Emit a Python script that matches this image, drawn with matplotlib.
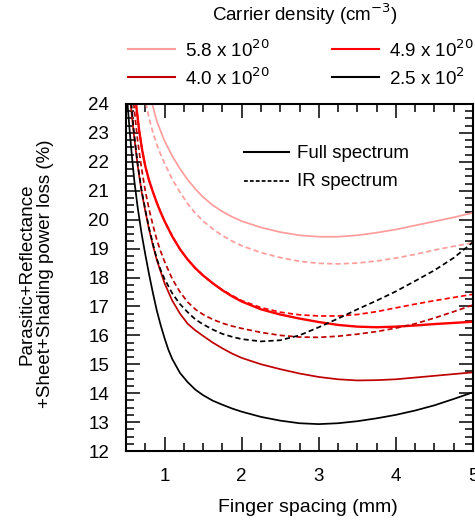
import matplotlib
matplotlib.use("Agg")
import matplotlib.pyplot as plt
from matplotlib.ticker import MultipleLocator

plt.rcParams['font.family'] = ['Liberation Sans', 'DejaVu Sans']

# ---- data ----
# 5.8e20, full spectrum
x_pink_full = [0.82, 0.84, 0.90, 1.00, 1.10, 1.20, 1.30, 1.40, 1.50, 1.625, 1.75, 1.875, 2.00, 2.25, 2.50, 2.75, 3.00, 3.25, 3.50, 3.75, 4.00, 4.25, 4.50, 4.75, 5.00]
y_pink_full = [24.3, 24.0, 23.4, 22.72, 22.2, 21.76, 21.38, 21.06, 20.78, 20.5, 20.28, 20.1, 19.95, 19.73, 19.57, 19.46, 19.41, 19.41, 19.46, 19.55, 19.66, 19.8, 19.94, 20.08, 20.24]
# 5.8e20, IR spectrum
x_pink_ir = [0.73, 0.76, 0.80, 0.85, 0.90, 0.95, 1.00, 1.10, 1.20, 1.30, 1.40, 1.50, 1.625, 1.75, 1.875, 2.00, 2.25, 2.50, 2.75, 3.00, 3.25, 3.50, 3.75, 4.00, 4.25, 4.50, 4.75, 5.00]
y_pink_ir = [24.6, 24.0, 23.5, 23.0, 22.6, 22.25, 21.95, 21.4, 20.95, 20.55, 20.22, 19.95, 19.68, 19.45, 19.26, 19.1, 18.86, 18.69, 18.56, 18.49, 18.47, 18.5, 18.57, 18.67, 18.8, 18.95, 19.08, 19.2]
# 4.9e20, full spectrum
x_red_full = [0.61, 0.63, 0.67, 0.71, 0.75, 0.80, 0.85, 0.90, 0.95, 1.00, 1.10, 1.20, 1.30, 1.40, 1.50, 1.625, 1.75, 1.875, 2.00, 2.25, 2.50, 2.75, 3.00, 3.25, 3.50, 3.75, 4.00, 4.25, 4.50, 4.75, 5.00]
y_red_full = [24.6, 24.0, 23.1, 22.4, 21.85, 21.35, 20.95, 20.58, 20.25, 19.95, 19.42, 18.98, 18.62, 18.32, 18.07, 17.8, 17.56, 17.35, 17.17, 16.9, 16.72, 16.58, 16.46, 16.36, 16.3, 16.28, 16.3, 16.34, 16.39, 16.43, 16.47]
# 4.9e20, IR spectrum
x_red_ir = [0.61, 0.63, 0.67, 0.71, 0.75, 0.80, 0.85, 0.90, 0.95, 1.00, 1.10, 1.20, 1.30, 1.40, 1.50, 1.625, 1.75, 1.875, 2.00, 2.25, 2.50, 2.75, 3.00, 3.25, 3.50, 3.75, 4.00, 4.25, 4.50, 4.75, 5.00]
y_red_ir = [24.6, 24.0, 23.1, 22.4, 21.85, 21.35, 20.95, 20.58, 20.25, 19.95, 19.42, 18.98, 18.62, 18.32, 18.07, 17.8, 17.57, 17.38, 17.2, 16.96, 16.8, 16.71, 16.67, 16.67, 16.72, 16.82, 16.95, 17.08, 17.2, 17.31, 17.42]
# 4.0e20, full spectrum
x_dred_full = [0.54, 0.56, 0.60, 0.65, 0.70, 0.75, 0.80, 0.85, 0.90, 0.95, 1.00, 1.10, 1.20, 1.30, 1.40, 1.50, 1.625, 1.75, 1.875, 2.00, 2.25, 2.50, 2.75, 3.00, 3.25, 3.50, 3.75, 4.00, 4.25, 4.50, 4.75, 5.00]
y_dred_full = [24.6, 24.0, 23.0, 21.9, 21.0, 20.3, 19.65, 19.1, 18.6, 18.2, 17.8, 17.2, 16.75, 16.4, 16.17, 15.98, 15.75, 15.55, 15.37, 15.22, 15.0, 14.83, 14.68, 14.56, 14.48, 14.44, 14.45, 14.48, 14.54, 14.6, 14.66, 14.72]
# 4.0e20, IR spectrum
x_dred_ir = [0.58, 0.60, 0.65, 0.70, 0.75, 0.80, 0.85, 0.90, 0.95, 1.00, 1.10, 1.20, 1.30, 1.40, 1.50, 1.625, 1.75, 1.875, 2.00, 2.25, 2.50, 2.75, 3.00, 3.25, 3.50, 3.75, 4.00, 4.25, 4.50, 4.75, 5.00]
y_dred_ir = [24.6, 24.0, 22.75, 21.8, 21.0, 20.35, 19.8, 19.3, 18.9, 18.55, 17.95, 17.5, 17.15, 16.9, 16.72, 16.55, 16.42, 16.32, 16.24, 16.1, 16.0, 15.94, 15.93, 15.97, 16.04, 16.13, 16.25, 16.4, 16.6, 16.82, 17.05]
# 2.5e2, full spectrum
x_blk_full = [0.50, 0.52, 0.55, 0.58, 0.61, 0.65, 0.70, 0.75, 0.80, 0.85, 0.90, 0.95, 1.00, 1.05, 1.10, 1.20, 1.30, 1.40, 1.50, 1.625, 1.75, 1.875, 2.00, 2.25, 2.50, 2.75, 3.00, 3.25, 3.50, 3.75, 4.00, 4.25, 4.50, 4.75, 5.00]
y_blk_full = [24.8, 24.0, 23.0, 22.1, 21.3, 20.45, 19.55, 18.8, 18.1, 17.45, 16.85, 16.35, 15.9, 15.5, 15.18, 14.7, 14.38, 14.12, 13.93, 13.74, 13.6, 13.47, 13.36, 13.18, 13.05, 12.96, 12.93, 12.96, 13.03, 13.13, 13.25, 13.4, 13.58, 13.8, 14.03]
# 2.5e2, IR spectrum
x_blk_ir = [0.55, 0.57, 0.60, 0.65, 0.70, 0.75, 0.80, 0.85, 0.90, 0.95, 1.00, 1.10, 1.20, 1.30, 1.40, 1.50, 1.625, 1.75, 1.875, 2.00, 2.25, 2.50, 2.75, 3.00, 3.25, 3.50, 3.75, 4.00, 4.25, 4.50, 4.75, 5.00]
y_blk_ir = [24.6, 24.0, 23.1, 21.95, 21.05, 20.35, 19.7, 19.15, 18.65, 18.25, 17.95, 17.45, 17.08, 16.8, 16.55, 16.38, 16.2, 16.05, 15.95, 15.87, 15.79, 15.83, 16.0, 16.28, 16.58, 16.9, 17.2, 17.52, 17.88, 18.25, 18.68, 19.22]

density_labels = ['5.8 x 10$^{20}$', '4.9 x 10$^{20}$', '4.0 x 10$^{20}$', '2.5 x 10$^{2}$']
x_ticks = [1, 2, 3, 4, 5]
y_ticks = list(range(12, 25))

c_pink = '#FF9C9C'
c_red = '#FF0000'
c_dred = '#C00000'
c_blk = '#000000'

W, H = 475, 523
fig = plt.figure(figsize=(W / 100, H / 100), dpi=100)
ax = fig.add_axes([126 / W, 1 - 451 / H, 347 / W, 347 / H])

lw = 1.25
dash = (3.0, 1.8)
ax.plot(x_pink_full, y_pink_full, color=c_pink, lw=lw)
ax.plot(x_pink_ir, y_pink_ir, color=c_pink, lw=lw, dashes=dash)
ax.plot(x_red_full, y_red_full, color=c_red, lw=1.7)
ax.plot(x_red_ir, y_red_ir, color=c_red, lw=lw, dashes=dash)
ax.plot(x_dred_full, y_dred_full, color=c_dred, lw=lw)
ax.plot(x_dred_ir, y_dred_ir, color=c_dred, lw=lw, dashes=dash)
ax.plot(x_blk_full, y_blk_full, color=c_blk, lw=lw)
ax.plot(x_blk_ir, y_blk_ir, color=c_blk, lw=lw, dashes=dash)

ax.set_xlim(0.5, 5.0)
ax.set_ylim(12, 24)
ax.set_xticks(x_ticks)
ax.set_yticks(y_ticks)
ax.xaxis.set_minor_locator(MultipleLocator(0.25))
ax.yaxis.set_minor_locator(MultipleLocator(0.25))
ax.tick_params(which='both', direction='in', top=True, right=True, labelsize=13.5, width=1.1)
ax.tick_params(which='major', length=10, pad=12)
ax.tick_params(which='minor', length=5.5)
for s in ax.spines.values():
    s.set_linewidth(1.5)

fig.text(308 / W, 1 - 507 / H, 'Finger spacing (mm)', fontsize=14, ha='center', va='center')
fig.text(36 / W, 1 - 274 / H, 'Parasitic+Reflectance\n+Sheet+Shading power loss (%)', fontsize=13.5,
         rotation=90, ha='center', va='center', multialignment='center', linespacing=1.1)

# inner legend (spectrum type), placed in pixel coordinates of the figure
for py, d in [(152, None), (181, (2.2, 1.2))]:
    ln = plt.Line2D([244 / W, 289 / W], [1 - py / H] * 2, color='k', lw=lw if d else 1.5)
    if d:
        ln.set_dashes(d)
    fig.add_artist(ln)
fig.text(297 / W, 1 - 153 / H, 'Full spectrum', fontsize=13.5, ha='left', va='center')
fig.text(297 / W, 1 - 182 / H, 'IR spectrum', fontsize=13.5, ha='left', va='center')

# top legend (carrier density)
fig.text(305 / W, 1 - 14 / H, 'Carrier density (cm$^{-3}$)', fontsize=13.5, ha='center', va='center')
leg_colors = [c_pink, c_red, c_dred, c_blk]
pos = [(128, 49), (332, 49), (128, 77), (332, 77)]
for (px, py), col, lab in zip(pos, leg_colors, density_labels):
    fig.add_artist(plt.Line2D([px / W, (px + 47) / W], [1 - py / H] * 2, color=col, lw=1.5))
    fig.text((px + 57) / W, 1 - (py + 1) / H, lab, fontsize=13.5, ha='left', va='center')

fig.savefig('out.png', dpi=100)
